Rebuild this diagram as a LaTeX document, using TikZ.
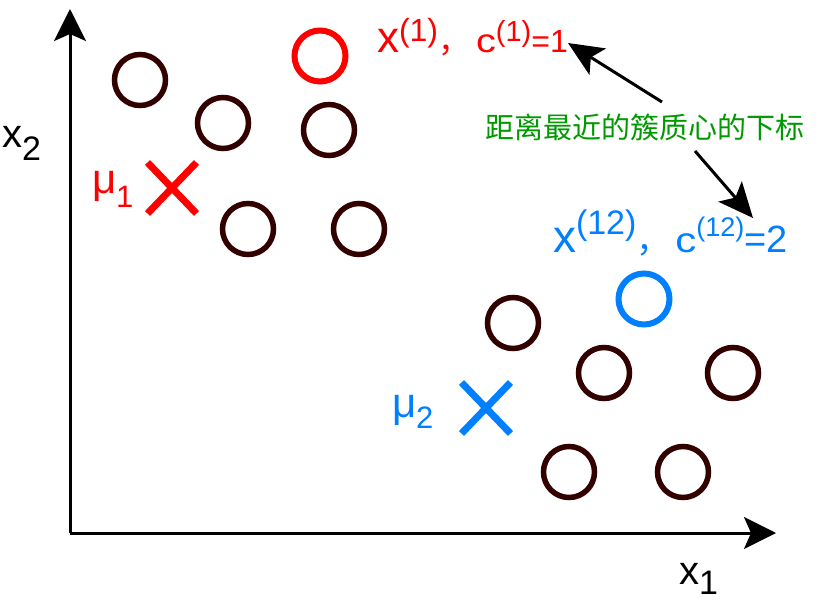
\documentclass[tikz,border=0pt]{standalone}
\usepackage{fontspec}
\setmainfont{Liberation Sans}
\newfontfamily\cjk{Noto Sans CJK SC}
\usetikzlibrary{arrows.meta,shapes.misc}
\definecolor{dark}{RGB}{51,0,0}
\definecolor{myred}{RGB}{255,0,0}
\definecolor{myblue}{RGB}{0,127,255}
\definecolor{mygreen}{RGB}{0,153,0}
\newcommand{\myfs}[1]{\fontsize{#1}{#1}\selectfont}
\tikzset{
  pt/.style={circle,draw=dark,line width=5.5pt,minimum size=51pt,inner sep=0pt},
  ptred/.style={pt,draw=myred,line width=6pt},
  ptblue/.style={pt,draw=myblue,line width=6pt},
  cent/.style={cross out,line width=7pt,minimum width=42pt,minimum height=44pt,inner sep=0pt},
  lab/.style={anchor=base west,inner sep=0pt,outer sep=0pt},
  axis/.style={line width=3pt,-{Stealth[length=32pt,width=32pt,inset=7pt]}},
  ann/.style={line width=3pt,-{Stealth[length=35pt,width=31pt,inset=8pt]}}
}
\begin{document}
\begin{tikzpicture}[x=1pt,y=-1pt]
\useasboundingbox[fill=white] (0,0) rectangle (822,602);
% axes
\coordinate (O) at (70,533);
\coordinate (ytip) at (70,9);
\coordinate (xtip) at (776,533);
\draw[axis] (O) -- (ytip);
\draw[axis] (O) -- (xtip);
\node[lab] (x2) at (2,147) {\myfs{40}x\raisebox{-13pt}{\myfs{34}2}};
\node[lab] (x1) at (679,584) {\myfs{40}x\raisebox{-10pt}{\myfs{34}1}};
% points
\node[pt] (p1) at (140,80) {};
\node[pt] (p2) at (223,123) {};
\node[pt] (p3) at (248,229) {};
\node[ptred] (pr) at (320,56) {};
\node[pt] (p4) at (329,130) {};
\node[pt] (p5) at (359,229) {};
\node[pt] (p6) at (513,323) {};
\node[ptblue] (pb) at (644,299) {};
\node[pt] (p7) at (604,373) {};
\node[pt] (p8) at (733,373) {};
\node[pt] (p9) at (569,472) {};
\node[pt] (p10) at (683,472) {};
% centroids
\node[cent,draw=myred] (mu1) at (172,188) {};
\node[cent,draw=myblue] (mu2) at (486,408) {};
\node[lab,text=myred] (mu1l) at (92,193) {\myfs{42}μ\raisebox{-14pt}{\myfs{31}1}};
\node[lab,text=myblue] (mu2l) at (392,417) {\myfs{42}μ\raisebox{-11pt}{\myfs{31}2}};
% labels
\node[lab,text=myred] (l1) at (377,53) {\myfs{44}x\raisebox{12pt}{\myfs{32}(1)}{\cjk\myfs{32}，}\hspace{6pt}\scalebox{1.2}[1]{\myfs{33}c}\raisebox{12pt}{\myfs{29}(1)}\myfs{32}=1};
\node[lab,text=myblue] (l2) at (553,252) {\myfs{46}x\raisebox{18pt}{\myfs{34}(12)}{\cjk\myfs{34}，}\hspace{5pt}\scalebox{1.2}[1]{\myfs{35}c}\raisebox{16pt}{\myfs{27}(12)}\myfs{38}=2};
\node[text=mygreen,inner sep=0pt] (zh) at (645,127) {\cjk\myfs{29}距离最近的簇质心的下标};
% annotation arrows
\coordinate (a1s) at (662,102);
\coordinate (a1e) at (568,43);
\coordinate (a2s) at (695,151);
\coordinate (a2e) at (753,218);
\draw[ann] (a1s) -- (a1e);
\draw[ann] (a2s) -- (a2e);
\end{tikzpicture}
\end{document}
